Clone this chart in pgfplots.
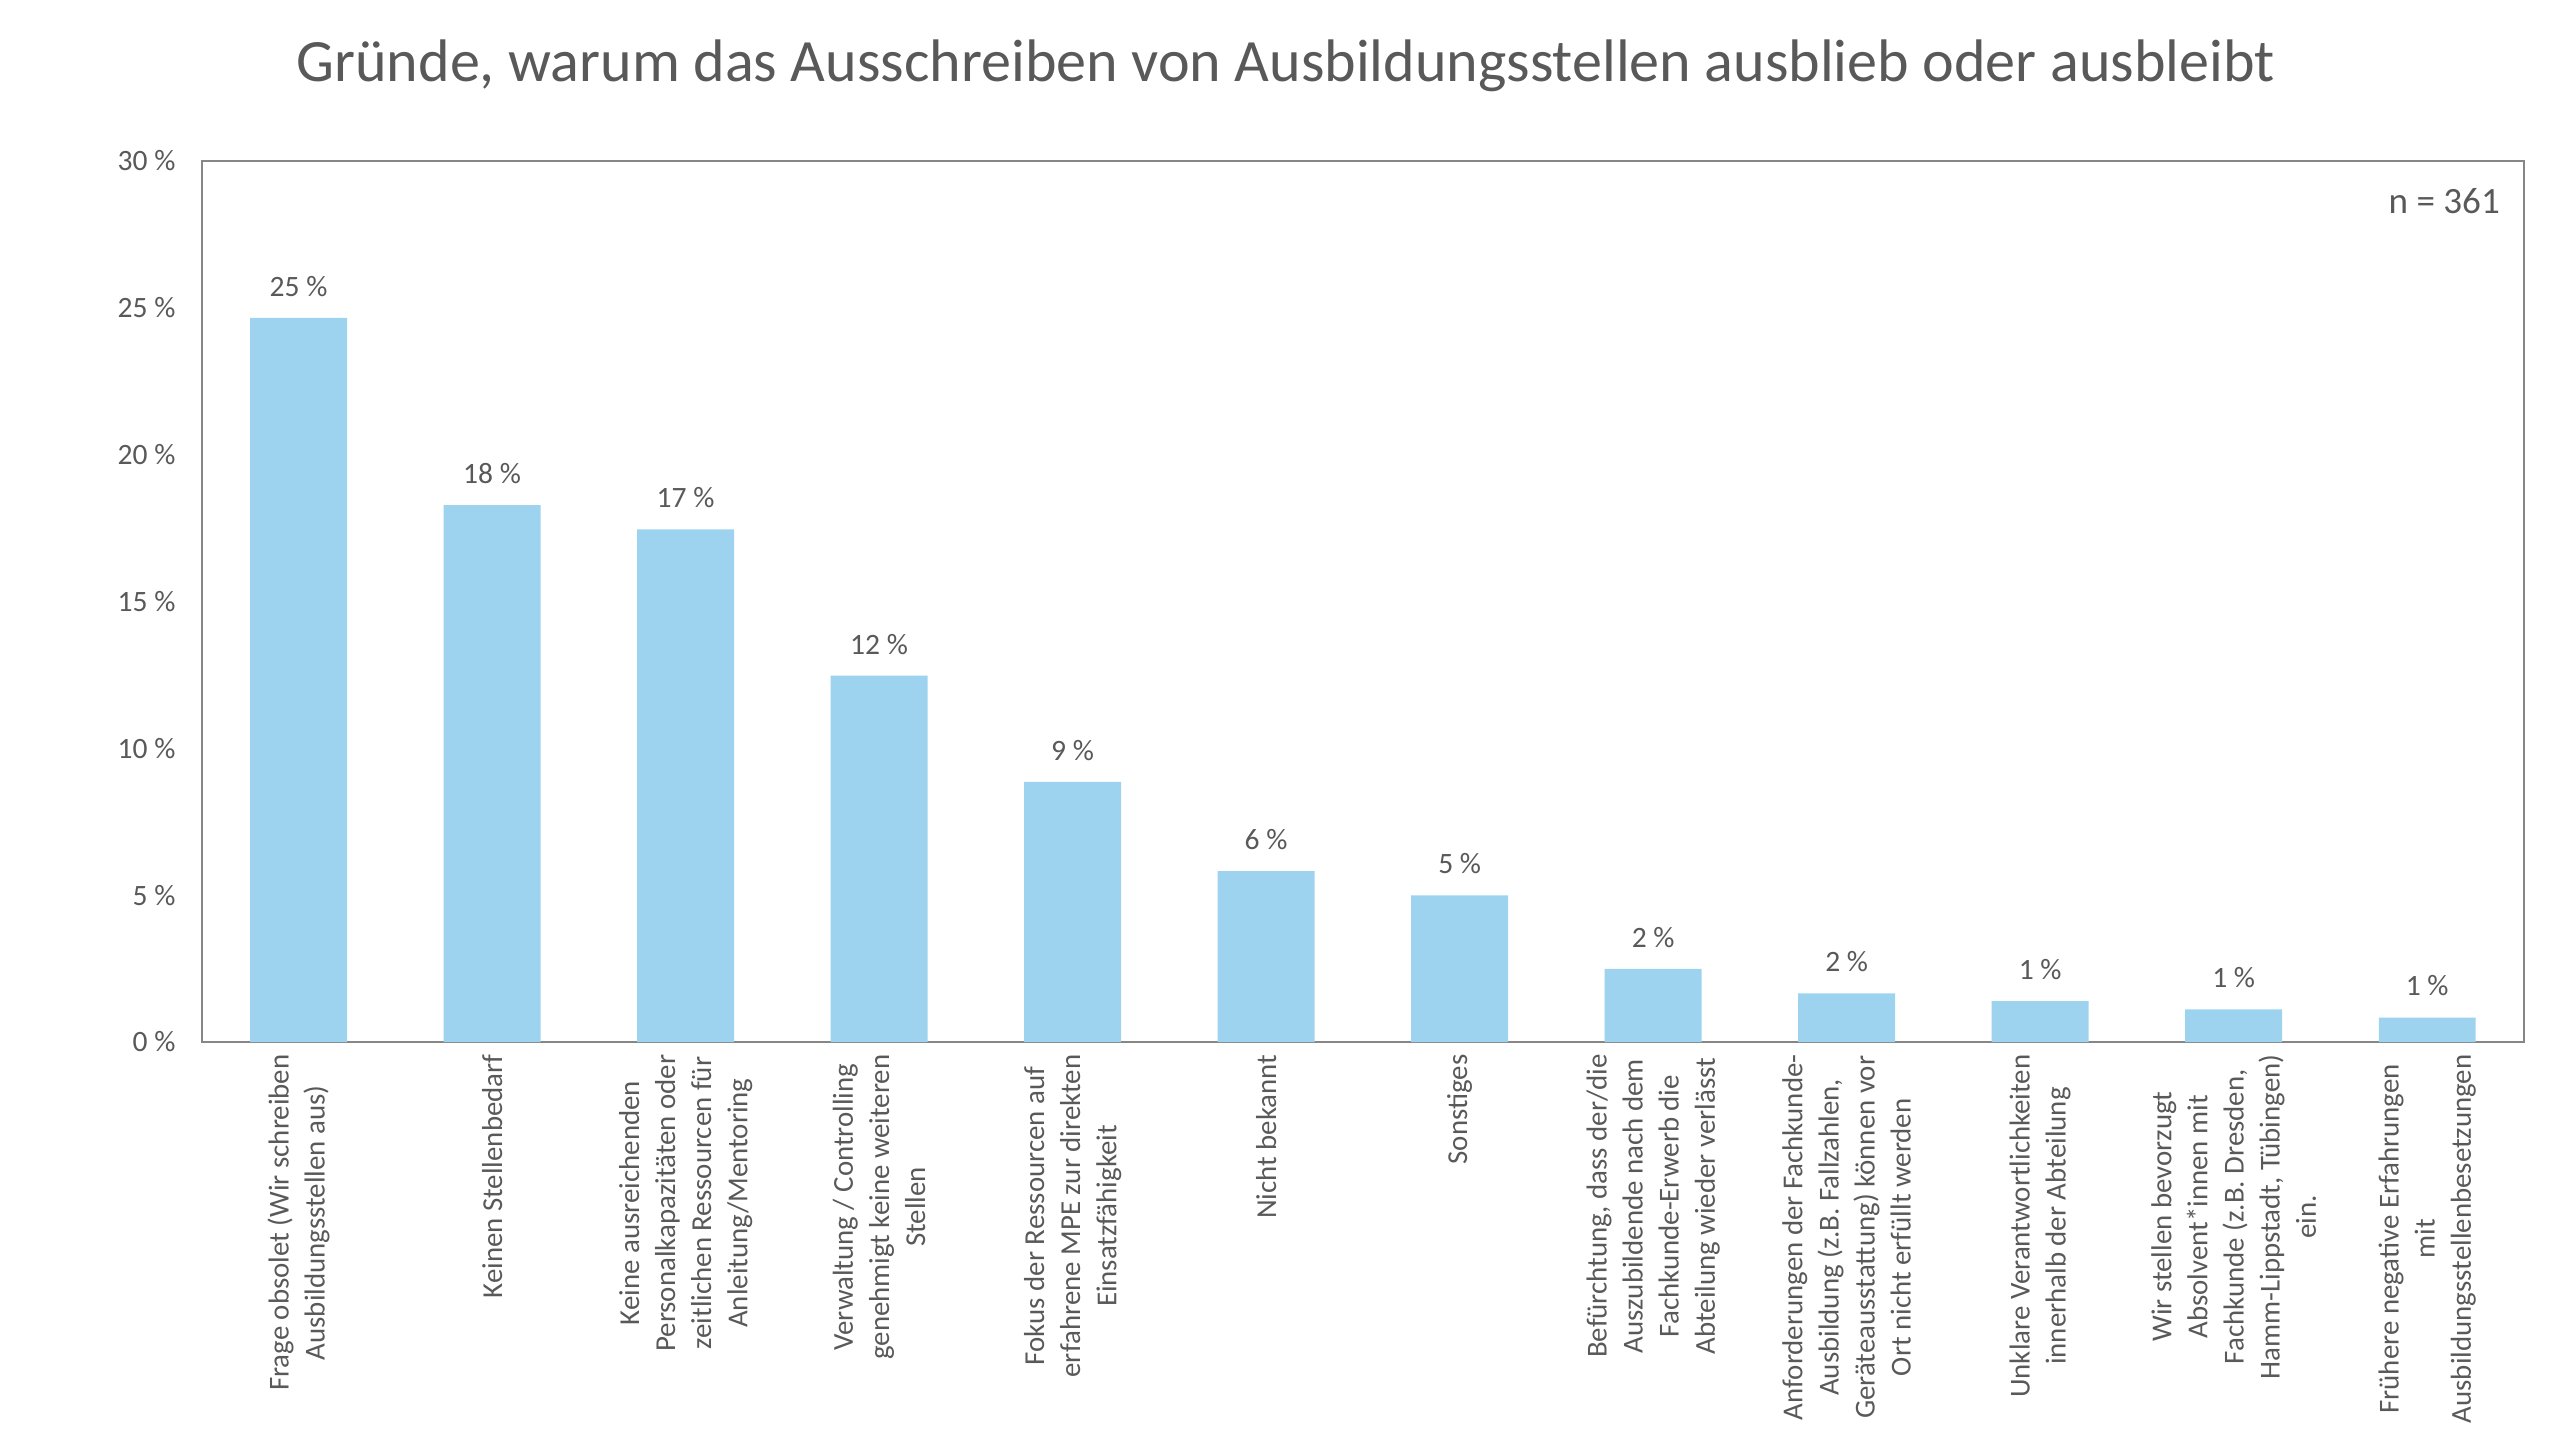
\documentclass[border=0pt]{standalone}
\usepackage{fontspec}
\setmainfont{Carlito}
\usepackage{pgfplots}
\pgfplotsset{compat=1.18}
\usepackage{pgfplotstable}
\definecolor{barblue}{RGB}{157,211,239}
\definecolor{txtgray}{RGB}{89,89,89}
\definecolor{framegray}{RGB}{134,134,134}
\pgfplotstableread[col sep=comma]{
x,y,lab
0,24.65,25 \%
1,18.28,18 \%
2,17.45,17 \%
3,12.47,12 \%
4,8.86,9 \%
5,5.82,6 \%
6,4.99,5 \%
7,2.49,2 \%
8,1.66,2 \%
9,1.39,1 \%
10,1.11,1 \%
11,0.83,1 \%
}\datatable
\begin{document}
\begin{tikzpicture}
\useasboundingbox (0,0) rectangle (780pt,436pt);
\node[text=txtgray, font=\fontsize{18.3}{21}\selectfont] at (391.75pt,416pt) {Gründe, warum das Ausschreiben von Ausbildungsstellen ausblieb oder ausbleibt};
\begin{axis}[
  at={(61.5pt,118.5pt)}, anchor=south west,
  scale only axis, width=707.5pt, height=268.5pt,
  xmin=-0.5, xmax=11.5, ymin=0, ymax=30,
  axis line style={framegray, line width=0.5pt},
  tick style={draw=none},
  ytick={0,5,...,30},
  yticklabel={\pgfmathprintnumber{\tick}~\%},
  /pgf/number format/assume math mode=true,
  yticklabel style={text=txtgray, font=\fontsize{9}{10.5}\selectfont, xshift=-4.5pt},
  xtick={0,...,11},
  xticklabels={
    {Frage obsolet (Wir schreiben\\Ausbildungsstellen aus)},
    {Keinen Stellenbedarf},
    {Keine ausreichenden\\Personalkapazitäten oder\\zeitlichen Ressourcen für\\Anleitung/Mentoring},
    {Verwaltung / Controlling\\genehmigt keine weiteren\\Stellen},
    {Fokus der Ressourcen auf\\erfahrene MPE zur direkten\\Einsatzfähigkeit},
    {Nicht bekannt},
    {Sonstiges},
    {Befürchtung, dass der/die\\Auszubildende nach dem\\Fachkunde-Erwerb die\\Abteilung wieder verlässt},
    {Anforderungen der Fachkunde-\\Ausbildung (z.B. Fallzahlen,\\Geräteausstattung) können vor\\Ort nicht erfüllt werden},
    {Unklare Verantwortlichkeiten\\innerhalb der Abteilung},
    {Wir stellen bevorzugt\\Absolvent*innen mit\\Fachkunde (z.B. Dresden,\\Hamm-Lippstadt, Tübingen)\\ein.},
    {Frühere negative Erfahrungen\\mit\\Ausbildungsstellenbesetzungen}
  },
  xticklabel style={rotate=90, anchor=east, align=center, text=txtgray,
    font=\fontsize{8.8}{11}\selectfont, xshift=4pt},
  ybar, bar width=29.5pt,
  nodes near coords={\pgfplotspointmeta},
  point meta=explicit symbolic,
  every node near coord/.append style={text=txtgray, font=\fontsize{9}{10.5}\selectfont, yshift=3pt},
  clip=false,
]
\addplot[fill=barblue, draw=none] table[x=x, y=y, meta=lab] {\datatable};
\node[anchor=north east, text=txtgray, font=\fontsize{11.3}{13}\selectfont] at (rel axis cs:1,1) [xshift=-3.8pt, yshift=-5pt] {n = 361};
\end{axis}
\end{tikzpicture}
\end{document}
